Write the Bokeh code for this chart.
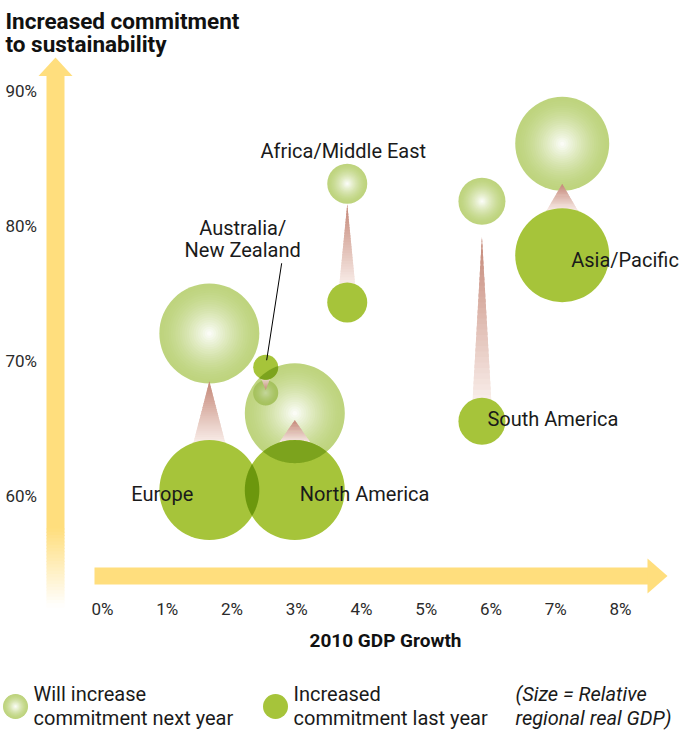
import numpy as np
from bokeh.plotting import figure
from bokeh.models import Range1d
from bokeh.core.properties import value
from bokeh.embed import file_html
from bokeh.resources import INLINE

# ---------------- data ----------------
regions = ["Europe", "North America", "Australia/\nNew Zealand",
           "Africa/Middle East", "South America", "Asia/Pacific"]
gdp_growth = [1.65, 2.97, 2.52, 3.78, 5.86, 7.10]              # 2010 GDP growth, %
increased_last_year = [60.4, 60.4, 69.5, 74.3, 65.5, 77.8]      # green bubbles, %
will_increase_next_year = [72.0, 66.1, 67.6, 83.1, 81.8, 86.05] # light bubbles, %
relative_gdp = [100, 100, 25, 40, 47, 94]                       # bubble size (relative real GDP)

x_ticks = [0, 1, 2, 3, 4, 5, 6, 7, 8]
x_tick_labels = ["0%", "1%", "2%", "3%", "4%", "5%", "6%", "7%", "8%"]
y_ticks = [60, 70, 80, 90]
y_tick_labels = ["60%", "70%", "80%", "90%"]

y_title = ["Increased commitment", "to sustainability"]
x_title = "2010 GDP Growth"
legend_light = ["Will increase", "commitment next year"]
legend_green = ["Increased", "commitment last year"]
legend_note = ["(Size = Relative", "regional real GDP)"]

# ---------------- layout / style ----------------
W, H = 679, 730
PX0, SX = 102.0, 64.75      # pixel of 0% and pixels per 1% (x)
PY90, SY = 90.0, 13.5       # pixel of 90% and pixels per 1% (y)
R_SCALE = 0.5               # pixel radius per relative GDP unit


def X(px):
    return (px - PX0) / SX


def Y(py):
    return 90.0 - (py - PY90) / SY


def PX(x):
    return PX0 + SX * x


def PY(v):
    return PY90 + SY * (90.0 - v)


def hexc(c):
    return "#%02x%02x%02x" % tuple(int(round(max(0, min(255, v)))) for v in c)


def lerp(c0, c1, t):
    return tuple(a + (b - a) * t for a, b in zip(c0, c1))


def mult(c0, c1):
    return tuple(a * b / 255.0 for a, b in zip(c0, c1))


WHITE = (255, 255, 255)
GREEN = (166, 196, 58)
LIGHT = (190, 212, 126)
ARROW = (255, 222, 125)
TRI_BASE = (249, 238, 234)
TRI_TIP = (196, 134, 118)
FONT = "Roboto"
TXT = "#1a1a1a"

p = figure(width=W, height=H, x_range=Range1d(X(0), X(W)), y_range=Range1d(Y(H), Y(0)),
           output_backend="svg", toolbar_location=None, min_border=0,
           x_axis_location=None, y_axis_location=None)
p.grid.visible = False
p.outline_line_color = None
p.background_fill_color = "white"
p.border_fill_color = "white"


def poly(pts_px, color, alpha=1.0):
    p.patch([X(a) for a, b in pts_px], [Y(b) for a, b in pts_px],
            fill_color=hexc(color), fill_alpha=alpha, line_color=None)


def label(px, py, txt, size="20px", align="left", style="normal", color=TXT):
    # py is the visual centre line of the text
    p.text(x=[X(px)], y=[Y(py)], text=[txt], text_font=value(FONT), text_font_size=size,
           text_font_style=style, text_color=color, text_align=align,
           text_baseline="alphabetic")


# ---------------- axis arrows ----------------
poly([(46, 74), (64, 74), (64, 529), (46, 529)], ARROW)
poly([(38, 75.5), (55, 57), (72, 75.5)], ARROW)
NF = 24
for k in range(NF):
    y0 = 528 + k * (78 / NF)
    y1 = y0 + 78 / NF + 1
    poly([(46, y0), (64, y0), (64, y1), (46, y1)], lerp(ARROW, WHITE, (k + 0.5) / NF))
poly([(94, 567), (648, 567), (648, 584), (94, 584)], ARROW)
poly([(647, 558), (667, 575.5), (647, 593)], ARROW)

# ---------------- bubble geometry (pixels) ----------------
n = len(regions)
gx = [PX(v) for v in gdp_growth]
gy = [PY(v) for v in increased_last_year]
ly = [PY(v) for v in will_increase_next_year]
rr = [R_SCALE * s for s in relative_gdp]


def gradient_bubbles(cx_list, cy_list, r_list, K=22):
    xs, ys, sz, cols = [], [], [], []
    for cx, cy, r in zip(cx_list, cy_list, r_list):
        for k in range(K):
            s = 1 - k / K
            t = (k / K) ** 1.5
            xs.append(X(cx))
            ys.append(Y(cy))
            sz.append(2 * r * s)
            cols.append(hexc(lerp(LIGHT, WHITE, t)))
    p.scatter(xs, ys, size=sz, marker="circle", fill_color=cols, line_color=None)


def lens(c1, c2, npts=360):
    (x1, y1, r1), (x2, y2, r2) = c1, c2
    d = np.hypot(x2 - x1, y2 - y1)
    if d >= r1 + r2:
        return None
    th = np.linspace(0, 2 * np.pi, npts, endpoint=False)
    a = np.c_[x1 + r1 * np.cos(th), y1 + r1 * np.sin(th)]
    b = np.c_[x2 + r2 * np.cos(th), y2 + r2 * np.sin(th)]
    a = a[np.hypot(a[:, 0] - x2, a[:, 1] - y2) <= r2]
    b = b[np.hypot(b[:, 0] - x1, b[:, 1] - y1) <= r1]
    pts = np.vstack([a, b])
    if len(pts) < 3:
        return None
    c = pts.mean(axis=0)
    order = np.argsort(np.arctan2(pts[:, 1] - c[1], pts[:, 0] - c[0]))
    return pts[order]


gradient_bubbles(gx, ly, rr)

circles = []
for i in range(n):
    circles.append(("light", (gx[i], ly[i], rr[i])))
    circles.append(("green", (gx[i], gy[i], rr[i])))


def draw_lenses(kinds):
    for i in range(len(circles)):
        for j in range(i + 1, len(circles)):
            ki, ci = circles[i]
            kj, cj = circles[j]
            if {ki, kj} != kinds:
                continue
            pts = lens(ci, cj)
            if pts is None:
                continue
            col_i = GREEN if ki == "green" else LIGHT
            col_j = GREEN if kj == "green" else LIGHT
            alpha = 0.5 if kinds == {"light"} else 1.0
            p.patch(X(pts[:, 0]), Y(pts[:, 1]), fill_color=hexc(mult(col_i, col_j)),
                    fill_alpha=alpha, line_color=None)


draw_lenses({"light"})

# ---------------- change arrows (triangles with gradient) ----------------
M = 30
for i in range(n):
    if ly[i] < gy[i]:
        base = gy[i] - rr[i] + 3
        gap = (gy[i] - rr[i]) - (ly[i] + rr[i])
        tip = base - max(23.0, 0.88 * gap + 12)
    else:
        base = gy[i] + rr[i] - 3
        tip = ly[i] - 3
    hw0 = min(16.0, 0.4 * rr[i])
    for k in range(M):
        t0, t1 = k / M, (k + 1) / M
        y0 = base + (tip - base) * t0
        y1 = base + (tip - base) * min(1.0, t1 + 0.02)
        w0 = hw0 * (1 - t0)
        w1 = hw0 * (1 - min(1.0, t1 + 0.02))
        col = lerp(TRI_BASE, TRI_TIP, (t0 + t1) / 2)
        poly([(gx[i] - w0, y0), (gx[i] + w0, y0), (gx[i] + w1, y1), (gx[i] - w1, y1)], col)

# ---------------- green bubbles ----------------
p.scatter([X(v) for v in gx], [Y(v) for v in gy], size=[2 * r for r in rr], marker="circle",
          fill_color=hexc(GREEN), line_color=None)
draw_lenses({"green"})
draw_lenses({"green", "light"})

# leader line for Australia/New Zealand
ia = 2
p.segment(x0=[X(gx[ia] + 16)], y0=[Y(gy[ia] - 104)], x1=[X(gx[ia] + 1)], y1=[Y(gy[ia] - 7)],
          line_color="black", line_width=1)

# ---------------- region labels ----------------
label_dx = [-16, 5, -23, -4, 5.5, 9]
label_dy = [4, 4, -139, -151, -2, 5]
label_align = ["right", "left", "center", "center", "left", "left"]
for i, name in enumerate(regions):
    for k, line in enumerate(name.split("\n")):
        label(gx[i] + label_dx[i], gy[i] + label_dy[i] + 22 * k, line, align=label_align[i])

# ---------------- ticks and titles ----------------
p.text(x=x_ticks, y=[Y(608)] * len(x_ticks), text=x_tick_labels, text_font=value(FONT),
       text_font_size="17px", text_color="#2b2b2b", text_align="center", text_baseline="alphabetic")
p.text(x=[X(5)] * len(y_ticks), y=[Y(PY(v)) for v in y_ticks], text=y_tick_labels,
       text_font=value(FONT), text_font_size="17px", text_color="#2b2b2b",
       text_align="left", text_baseline="alphabetic")

for k, line in enumerate(y_title):
    label(5, 20 + 23 * k, line, size="22.5px", style="bold", color="#111111")
label(385, 640, x_title, size="19px", align="center", style="bold", color="#111111")

# ---------------- legend ----------------
gradient_bubbles([15], [706], [12.5])
p.scatter([X(275)], [Y(706)], size=[25], marker="circle", fill_color=hexc(GREEN), line_color=None)
for k in range(2):
    yc = 693 + 24 * k
    label(33, yc, legend_light[k])
    label(293, yc, legend_green[k])
    label(515, yc, legend_note[k], style="italic")

open("out.html", "w").write(file_html(p, INLINE))
